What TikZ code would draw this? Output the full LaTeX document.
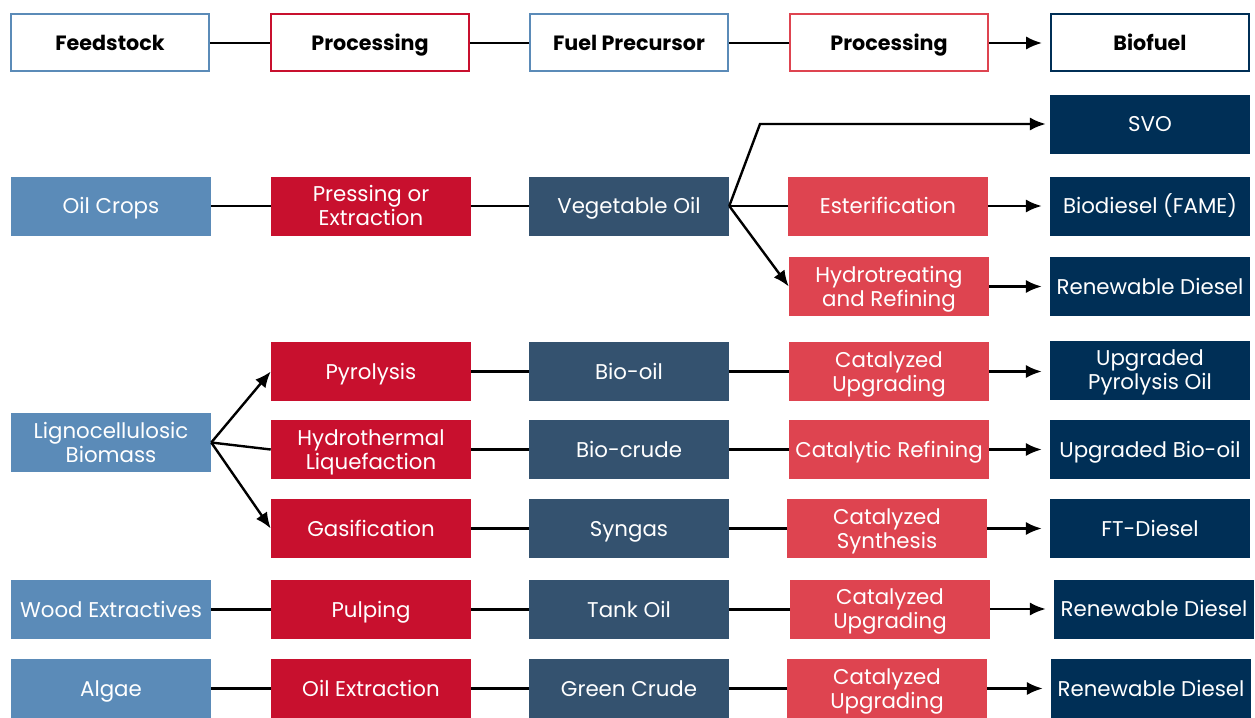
\documentclass[tikz,border=0pt]{standalone}
\usepackage{fontspec}
\setmainfont{Poppins}
\usetikzlibrary{arrows.meta}
\definecolor{cfeed}{HTML}{5B8BB8}
\definecolor{cproc}{HTML}{C8102E}
\definecolor{cprec}{HTML}{34526F}
\definecolor{cproctwo}{HTML}{DE4450}
\definecolor{cfuel}{HTML}{002F56}
\tikzset{
  box/.style={minimum width=150pt, minimum height=44.25pt, inner sep=0pt, align=center,
    text=white, font=\fontsize{16}{18}\selectfont, text height=11.5pt, text depth=0pt},
  two/.style={text height=29.5pt},
  feed/.style={box, fill=cfeed},
  proc/.style={box, fill=cproc},
  prec/.style={box, fill=cprec},
  proctwo/.style={box, fill=cproctwo},
  fuel/.style={box, fill=cfuel},
  head/.style={box, fill=white, text=black, line width=1.5pt, minimum width=148.5pt, minimum height=42.75pt,
    font=\fontsize{15.5}{18}\selectfont\bfseries},
  link/.style={line width=1.8pt, black},
  arr/.style={link, -{Latex[length=12pt,width=10pt]}},
  arrg/.style={arr, shorten >=6pt},
}
\begin{document}
\begin{tikzpicture}[x=0.75pt, y=-0.75pt]
\useasboundingbox (0,0) rectangle (1255,717);
% headers
\node[head, draw=cfeed] (h1) at (110,43) {Feedstock};
\node[head, draw=cproc] (h2) at (370,43) {Processing};
\node[head, draw=cfeed] (h3) at (629,43) {Fuel Precursor};
\node[head, draw=cproctwo] (h4) at (889,43) {Processing};
\node[head, draw=cfuel] (h5) at (1150,43) {Biofuel};
\draw[link] (h1) -- (h2);
\draw[link] (h2) -- (h3);
\draw[link] (h3) -- (h4);
\draw[arrg] (h4) -- (h5);
% oil crops
\node[feed] (oc) at (111,206) {Oil Crops};
\node[proc, two] (pe) at (371,206) {Pressing or\\Extraction};
\node[prec] (vo) at (629,206) {Vegetable Oil};
\node[proctwo] (es) at (888,206) {Esterification};
\node[fuel] (svo) at (1150,124) {SVO};
\node[fuel] (bd) at (1150,206) {Biodiesel (FAME)};
\node[proctwo, two] (ht) at (889,286.5) {Hydrotreating\\and Refining};
\node[fuel] (rd1) at (1150,286.5) {Renewable Diesel};
\coordinate (vbr) at (760,124);
\draw[link] (oc) -- (pe);
\draw[link] (pe) -- (vo);
\draw[arr, shorten >=3pt] (vo.east) -- (vbr) -- (svo.west);
\draw[link] (vo) -- (es);
\draw[arr] (vo.east) -- (ht.west);
\draw[arrg] (es) -- (bd);
\draw[arrg] (ht) -- (rd1);
% lignocellulosic
\node[feed, two] (lb) at (111,442.5) {Lignocellulosic\\Biomass};
\node[proc] (py) at (371,371.5) {Pyrolysis};
\node[prec] (bo) at (629,371.5) {Bio-oil};
\node[proctwo, two] (cu1) at (889,371.5) {Catalyzed\\Upgrading};
\node[fuel, two] (upo) at (1150,370) {Upgraded\\Pyrolysis Oil};
\node[proc, two] (hl) at (371,449.5) {Hydrothermal\\Liquefaction};
\node[prec] (bc) at (629,449.5) {Bio-crude};
\node[proctwo] (cr) at (889,449.5) {Catalytic Refining};
\node[fuel] (ubo) at (1150,449.5) {Upgraded Bio-oil};
\node[proc] (ga) at (371,528.5) {Gasification};
\node[prec] (sg) at (629,528.5) {Syngas};
\node[proctwo, two] (cs) at (887,528.5) {Catalyzed\\Synthesis};
\node[fuel] (ftd) at (1150,528.5) {FT-Diesel};
\draw[arr] (lb.east) -- (py.west);
\draw[link] (lb.east) -- (hl.west);
\draw[arr] (lb.east) -- (ga.west);
\draw[link] (py) -- (bo);
\draw[link] (bo) -- (cu1);
\draw[arrg] (cu1) -- (cu1.east -| upo.west);
\draw[link] (hl) -- (bc);
\draw[link] (bc) -- (cr);
\draw[arrg] (cr) -- (ubo);
\draw[link] (ga) -- (sg);
\draw[link] (sg) -- (cs);
\draw[arrg] (cs) -- (ftd);
% wood extractives
\node[feed] (we) at (111,609.5) {Wood Extractives};
\node[proc] (pu) at (371,609.5) {Pulping};
\node[prec] (to) at (629,609.5) {Tank Oil};
\node[proctwo, two] (cu2) at (890,609) {Catalyzed\\Upgrading};
\node[fuel] (rd2) at (1154,609) {Renewable Diesel};
\draw[link] (we) -- (pu);
\draw[link] (pu) -- (to);
\draw[link] (to.east) -- (to.east -| cu2.west);
\draw[arrg] (cu2) -- (rd2);
% algae
\node[feed] (al) at (111,688.5) {Algae};
\node[proc] (oe) at (371,688.5) {Oil Extraction};
\node[prec] (gc) at (629,688.5) {Green Crude};
\node[proctwo, two] (cu3) at (887,688.5) {Catalyzed\\Upgrading};
\node[fuel] (rd3) at (1151,688.5) {Renewable Diesel};
\draw[link] (al) -- (oe);
\draw[link] (oe) -- (gc);
\draw[link] (gc) -- (cu3);
\draw[arrg] (cu3) -- (rd3);
\end{tikzpicture}
\end{document}
